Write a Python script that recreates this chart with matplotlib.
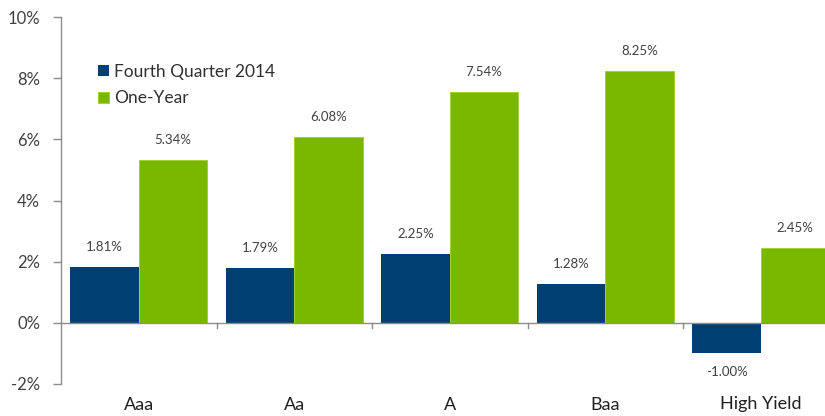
import matplotlib.pyplot as plt
import numpy as np

plt.rcParams['font.family'] = ['Lato', 'DejaVu Sans']

categories = ['Aaa', 'Aa', 'A', 'Baa', 'High Yield']
q4_2014 = [1.81, 1.79, 2.25, 1.28, -1.00]
one_year = [5.34, 6.08, 7.54, 8.25, 2.45]
series_names = ['Fourth Quarter 2014', 'One-Year']
yticks = [-2, 0, 2, 4, 6, 8, 10]

blue = '#003F72'
green = '#7AB800'
gray = '#8C8C8C'

W, H = 825, 416
fig = plt.figure(figsize=(W / 100, H / 100), dpi=100)
# plot area runs past the right edge, as in the cropped original
ax = fig.add_axes([61 / W, (H - 384) / H, 777.5 / W, 367 / H])

x = np.arange(len(categories))
bw = 0.44
b1 = ax.bar(x - bw / 2, q4_2014, bw, color=blue, label=series_names[0])
b2 = ax.bar(x + bw / 2, one_year, bw, color=green, edgecolor='#9BD12A',
            linewidth=0.6, label=series_names[1])

# value labels above (or below for negatives)
for bars in (b1, b2):
    for r in bars:
        v = r.get_height()
        cx = r.get_x() + r.get_width() / 2
        dy = 20 if v >= 0 else -19
        ax.annotate(f'{v:.2f}%', (cx, v), xytext=(0, dy), textcoords='offset pixels',
                    ha='center', va='center', fontsize=9.5, color='#404040')

ax.set_xlim(-0.5, len(categories) - 0.5)
ax.set_ylim(-2, 10)
ax.set_yticks(yticks)
ax.set_yticklabels([f'{t}%' for t in yticks], fontsize=12, color='#404040')
ax.tick_params(axis='y', length=6, color=gray, width=1, pad=9)

ax.set_xticks(x)
ax.set_xticklabels(categories, fontsize=13, color='#202020')
ax.tick_params(axis='x', length=0, pad=9)

for s in ['top', 'right', 'bottom']:
    ax.spines[s].set_visible(False)
ax.spines['left'].set_color(gray)
ax.spines['left'].set_linewidth(1)

ax.axhline(0, color=gray, lw=1, zorder=3)
for b in np.arange(0.5, len(categories) - 0.5, 1):
    ax.plot([b, b], [0, -0.17], color=gray, lw=1, clip_on=False, zorder=3)

ax.legend(loc='upper left', bbox_to_anchor=(0.028, 0.915), frameon=False,
          fontsize=12.5, handlelength=0.6, handleheight=0.6, handletextpad=0.3,
          labelspacing=0.6, labelcolor='#303030')

fig.savefig('out.png', dpi=100)
